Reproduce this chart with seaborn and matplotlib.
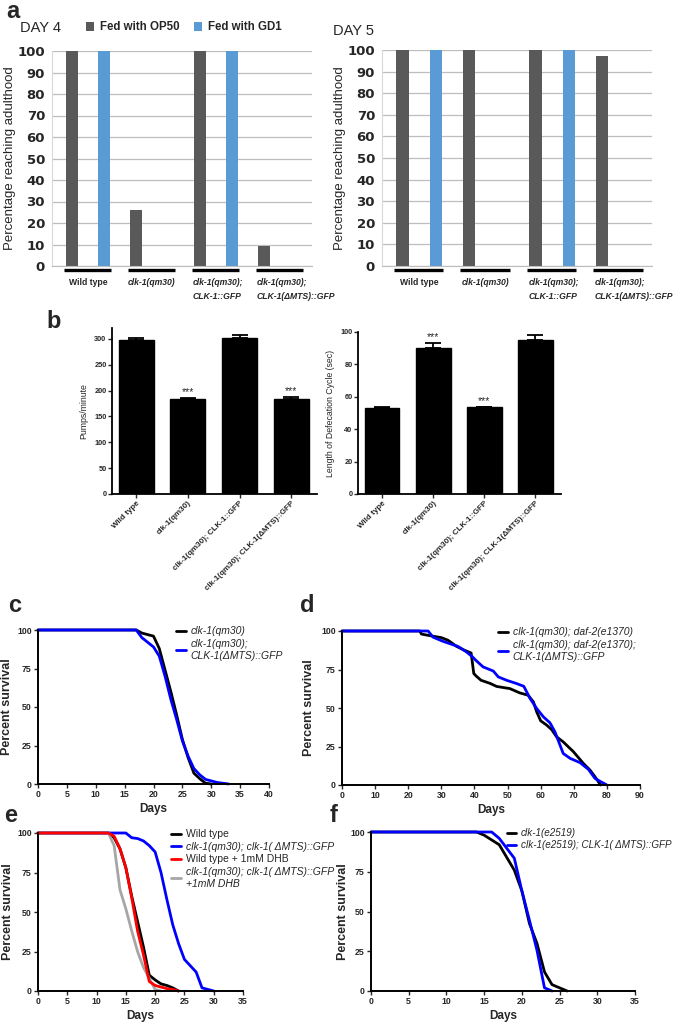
import numpy as np
import pandas as pd
import matplotlib
matplotlib.use('Agg')
from matplotlib import pyplot as plt
from matplotlib import transforms
import seaborn as sns

# ---------------- data ----------------
a_groups = ['Wild type', 'clk-1(qm30)', 'clk-1(qm30);\nCLK-1::GFP', 'clk-1(qm30);\nCLK-1(ΔMTS)::GFP']
a_feeds = ['Fed with OP50', 'Fed with GD1']
day4_op50 = [100, 26, 100, 9.5]
day4_gd1 = [100, 0, 100, 0]
day5_op50 = [100, 100, 100, 97]
day5_gd1 = [100, 0, 100, 0]

b_strains = ['Wild type', 'clk-1(qm30)', 'clk-1(qm30); CLK-1::GFP', 'clk-1(qm30); CLK-1(ΔMTS)::GFP']
pumps = [297, 183, 302, 184]
pumps_err = [5, 3, 5, 3]
pumps_sig = ['', '***', '', '***']
defec = [53, 90, 53.5, 95]
defec_err = [0.5, 3, 0.5, 3]
defec_sig = ['', '***', '***', '']

# panel c
c_days_qm30 = [0, 17, 18, 20, 21, 22, 23, 24, 25, 26, 27, 28, 29, 30]
c_pct_qm30 = [100, 100, 98, 96, 88, 74, 60, 45, 29, 17, 7, 3.5, 0.5, 0]
c_days_mts = [0, 17, 18, 19, 20, 21, 22, 23, 24, 25, 26, 27, 28, 29, 30, 31, 33]
c_pct_mts = [100, 100, 95, 92, 89, 83, 70, 55, 42, 28, 18, 10, 6, 3, 2, 1, 0]

# panel d
d_days_daf = [0, 23.5, 24, 26.5, 30, 32, 34.6, 37, 39, 39.8, 40.6, 42, 44.7, 46.7, 50.7, 53.7,
              56.2, 57.8, 58.8, 60, 61.8, 63.3, 64.8, 66.8, 69.9, 72.9, 74.9, 76.4, 77.4, 78.1]
d_pct_daf = [100, 100, 98, 97, 95.7, 94, 90, 87.5, 85.7, 72.4, 70.6, 68, 66, 64, 62.6, 59.8,
             58.3, 54, 47.5, 41.7, 38.9, 36, 31.3, 28, 21.6, 14, 9.7, 5.4, 2.2, 0]
d_days_mts = [0, 26, 27.5, 30.5, 35, 37.6, 39.4, 40.6, 42.6, 45.7, 47.2, 49.7, 52.7, 54.9, 56.8,
              58.8, 60.8, 62.8, 64.3, 66.8, 68.9, 71.9, 74.4, 76.4, 78.1, 80]
d_pct_mts = [100, 100, 96, 93.3, 90, 86.4, 83.2, 80.6, 76.7, 74, 70.2, 68, 65.9, 64.1, 56.2,
             49.7, 44.3, 40.4, 34.6, 20.5, 17.3, 14.5, 10.2, 4.3, 2.2, 0]

# panel e
e_days_wt = [0, 12, 13, 14, 15, 16, 17, 18, 19, 20, 21, 22, 23, 24]
e_pct_wt = [100, 100, 97, 90, 78, 60, 44, 28, 10, 7, 4.5, 3.5, 2, 0]
e_days_mts = [0, 15, 16, 17, 18, 19, 20, 21, 22, 23, 24, 25, 26, 27, 28, 29, 30]
e_pct_mts = [100, 100, 97, 96.5, 95, 92, 88, 75, 58, 42, 30, 20, 16, 12, 2, 1, 0]
e_days_wt_dhb = [0, 12, 13, 14, 15, 16, 17, 18, 19, 20, 21, 22, 23, 24]
e_pct_wt_dhb = [100, 100, 98, 90, 78, 59, 38, 23, 6, 3.5, 2.5, 1.5, 1, 0]
e_days_mts_dhb = [0, 12, 13, 14, 15, 16, 17, 18, 19, 20, 21]
e_pct_mts_dhb = [100, 100, 92, 64, 52, 38, 25, 15, 8, 1, 0]

# panel f
f_days_e2519 = [0, 14, 15, 17, 19, 20, 21, 22, 23, 24, 25, 26]
f_pct_e2519 = [100, 100, 98, 92, 76, 63, 42.5, 30, 12, 4, 2, 0]
f_days_mts = [0, 16, 17, 19, 20, 21, 22, 23, 24]
f_pct_mts = [100, 100, 96, 83.5, 63, 44.6, 25.7, 2, 0]

# ---------------- layout ----------------
sns.set_style('white')
plt.rcParams['font.family'] = ['Liberation Sans', 'DejaVu Sans']

W, H = 675, 1024
fig = plt.figure(figsize=(W / 100, H / 100), dpi=100)


def box(l, t, r, b):
    return [l / W, 1 - b / H, (r - l) / W, (b - t) / H]


def panel_label(x, y, s):
    fig.text(x / W, 1 - y / H, s, fontsize=17, fontweight='bold', va='center', ha='left')


# ---- panel a ----
def bar_panel_a(ax, op50, gd1, show_legend):
    df = pd.DataFrame({'strain': a_groups * 2,
                       'feed': [a_feeds[0]] * 4 + [a_feeds[1]] * 4,
                       'pct': op50 + gd1})
    sns.barplot(data=df, x='strain', y='pct', hue='feed', palette=['#595959', '#5b9bd5'],
                width=1.0, gap=0.62, saturation=1, linewidth=0, ax=ax, legend=show_legend)
    ax.set_axisbelow(True)
    ax.set_ylim(0, 100)
    ax.set_xlim(-0.56, 3.5)
    ax.set_yticks(range(0, 101, 10))
    ax.yaxis.grid(True, color='#bdbdbd', lw=0.9)
    for s in ['top', 'right']:
        ax.spines[s].set_visible(False)
    ax.spines['left'].set_color('#d9d9d9')
    ax.spines['bottom'].set_color('#bdbdbd')
    ax.tick_params(length=0, pad=5)
    for t in ax.get_yticklabels():
        t.set_fontweight('bold')
        t.set_fontsize(9.5)
        t.set_family('DejaVu Sans')
    ax.set_xlabel('')
    ax.set_ylabel('Percentage reaching adulthood', fontsize=9.5, labelpad=1)
    ax.set_xticks(range(4))
    ax.set_xticklabels([])
    trans = transforms.blended_transform_factory(ax.transData, ax.transAxes)
    for i, lab in enumerate(a_groups):
        ax.plot([i - 0.38, i + 0.36], [-0.02, -0.02], color='black', lw=2.4,
                transform=trans, clip_on=False, solid_capstyle='butt')
        two_lines = '\n' in lab
        ax.text(i - 0.36 if two_lines else i, -0.055, lab, transform=trans,
                ha='left' if two_lines else 'center', va='top', fontsize=6.2,
                fontweight='bold', style='normal' if i == 0 else 'italic',
                linespacing=1.75)
    if show_legend:
        ax.legend(ncol=2, loc='center left', bbox_to_anchor=(0.09, 1.11), frameon=False,
                  handlelength=0.75, handleheight=0.75, handletextpad=0.5, columnspacing=1.2,
                  prop={'weight': 'bold', 'size': 8.3})


ax_a1 = fig.add_axes(box(52, 51, 312, 266))
bar_panel_a(ax_a1, day4_op50, day4_gd1, True)
ax_a2 = fig.add_axes(box(382, 50, 652, 266))
bar_panel_a(ax_a2, day5_op50, day5_gd1, False)
fig.text(20 / W, 1 - 28 / H, 'DAY 4', fontsize=10.5, va='center')
fig.text(333 / W, 1 - 31 / H, 'DAY 5', fontsize=10.5, va='center')
panel_label(6, 11, 'a')


# ---- panel b ----
def bar_panel_b(ax, vals, errs, sig, ylabel, ymax, ystep):
    sns.barplot(x=b_strains, y=vals, color='black', width=0.68, saturation=1,
                errorbar=None, edgecolor='black', ax=ax)
    ax.errorbar(range(len(vals)), vals, yerr=[np.zeros(len(vals)), errs], fmt='none',
                ecolor='black', elinewidth=1.3, capsize=6, capthick=1.3)
    for i, (v, e, s) in enumerate(zip(vals, errs, sig)):
        if s:
            ax.text(i, v + e + ymax * 0.005, s, ha='center', va='bottom', fontsize=7.5)
    ax.set_ylim(0, ymax)
    ax.set_xlim(-0.47, 3.5)
    ax.set_yticks(np.arange(0, ymax + 0.1, ystep))
    for s in ['top', 'right']:
        ax.spines[s].set_visible(False)
    for s in ['left', 'bottom']:
        ax.spines[s].set_linewidth(1.3)
        ax.spines[s].set_color('black')
    ax.tick_params(direction='out', length=3, width=1, labelsize=5.3, pad=1, left=True, bottom=True)
    for t in ax.get_yticklabels():
        t.set_fontweight('bold')
    ax.set_xticks(range(4))
    ax.set_xticklabels(b_strains, rotation=45, ha='right', rotation_mode='anchor',
                       fontsize=5.8, fontweight='bold')
    ax.set_ylabel(ylabel, fontsize=6.3, labelpad=4)


ax_b1 = fig.add_axes(box(112, 328, 317, 494))
bar_panel_b(ax_b1, pumps, pumps_err, pumps_sig, 'Pumps/minute', 321, 50)
ax_b2 = fig.add_axes(box(358, 332, 561, 494))
bar_panel_b(ax_b2, defec, defec_err, defec_sig, 'Length of Defecation Cycle (sec)', 100, 20)
panel_label(46, 322, 'b')


# ---- survival panels ----
def survival_panel(ax, curves, xmax, xstep, anchor, ylab_x, fs=7.5, order=None):
    for days, pct, color, label in curves:
        sns.lineplot(x=days, y=pct, color=color, lw=2, label=label, errorbar=None,
                     ax=ax, clip_on=False)
    ax.set_xlim(0, xmax)
    ax.set_ylim(0, 100)
    ax.set_xticks(range(0, xmax + 1, xstep))
    ax.set_yticks([0, 25, 50, 75, 100])
    for s in ['top', 'right']:
        ax.spines[s].set_visible(False)
    for s in ['left', 'bottom']:
        ax.spines[s].set_linewidth(1.4)
        ax.spines[s].set_color('black')
    ax.tick_params(direction='out', length=3, width=1, labelsize=6.3, pad=1.5, left=True, bottom=True)
    for t in ax.get_xticklabels() + ax.get_yticklabels():
        t.set_fontweight('bold')
    ax.set_xlabel('Days', fontsize=8.5, fontweight='bold', labelpad=3)
    ax.set_ylabel('Percent survival', fontsize=9, fontweight='bold')
    ax.yaxis.set_label_coords(ylab_x, 0.5)
    h, l = ax.get_legend_handles_labels()
    if order is not None:
        h = [h[i] for i in order]
        l = [l[i] for i in order]
    leg = ax.legend(h, l, loc='upper left', bbox_to_anchor=anchor, frameon=False, fontsize=fs,
                    handlelength=0.9, handletextpad=0.5, labelspacing=0.25, borderaxespad=0)
    for t in leg.get_texts():
        if not t.get_text().startswith('Wild'):
            t.set_style('italic')


ax_c = fig.add_axes(box(38, 630, 269, 784))
survival_panel(ax_c, [(c_days_qm30, c_pct_qm30, 'black', 'clk-1(qm30)'),
                      (c_days_mts, c_pct_mts, '#0000ff', 'clk-1(qm30);\nCLK-1(ΔMTS)::GFP')],
               40, 5, (0.58, 1.05), -0.108)
panel_label(8, 605, 'c')

ax_d = fig.add_axes(box(342, 631, 640, 785))
survival_panel(ax_d, [(d_days_daf, d_pct_daf, 'black', 'clk-1(qm30); daf-2(e1370)'),
                      (d_days_mts, d_pct_mts, '#0000ff', 'clk-1(qm30); daf-2(e1370);\nCLK-1(ΔMTS)::GFP')],
               90, 10, (0.51, 1.05), -0.09)
panel_label(300, 605, 'd')

ax_e = fig.add_axes(box(38, 833, 243, 991))
survival_panel(ax_e, [(e_days_wt, e_pct_wt, 'black', 'Wild type'),
                      (e_days_mts, e_pct_mts, '#0000ff', 'clk-1(qm30); clk-1( ΔMTS)::GFP'),
                      (e_days_mts_dhb, e_pct_mts_dhb, '#a6a6a6', 'clk-1(qm30); clk-1( ΔMTS)::GFP\n+1mM DHB'),
                      (e_days_wt_dhb, e_pct_wt_dhb, '#ff0000', 'Wild type + 1mM DHB')],
               35, 5, (0.63, 1.05), -0.117, order=[0, 1, 3, 2])
panel_label(4, 815, 'e')

ax_f = fig.add_axes(box(371, 832, 635, 991))
survival_panel(ax_f, [(f_days_e2519, f_pct_e2519, 'black', 'clk-1(e2519)'),
                      (f_days_mts, f_pct_mts, '#0000ff', 'clk-1(e2519); CLK-1( ΔMTS)::GFP')],
               35, 5, (0.50, 1.05), -0.083, fs=7.1)
panel_label(330, 815, 'f')

fig.savefig('out.png', dpi=100)
